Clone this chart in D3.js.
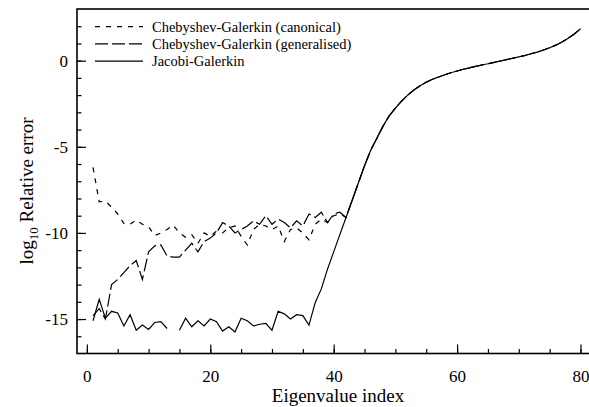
<!DOCTYPE html>
<html>
<head>
<meta charset="utf-8">
<script src="https://cdn.jsdelivr.net/npm/d3@7"></script>
<style>
  body { margin: 0; background: #fff; }
  svg text { font-family: "Liberation Serif", "Times New Roman", serif; fill: #000; }
</style>
</head>
<body>
<div id="chart"></div>
<script>
var width = 589, height = 407;
var margin = {top: 9, right: -10, bottom: 53.5, left: 77};

// eigenvalue index 1..41, series still apart
var canonical = [-6.2,-8.2,-8.15,-8.5,-8.9,-9.45,-9.5,-9.25,-9.5,-9.65,-10.15,-10.0,-9.8,-9.55,-10.0,-10.25,-10.1,-10.6,-10.0,-10.2,
  -9.9,-10.0,-9.7,-9.6,-10.2,-10.7,-9.8,-9.5,-9.6,-9.8,-9.6,-10.5,-9.8,-9.7,-10.0,-10.4,-9.5,-9.2,-9.4,-9.0,-8.9];
var generalised = [-14.8,-14.4,-15.0,-13.0,-12.7,-12.3,-11.9,-11.6,-12.7,-11.1,-10.75,-10.7,-11.35,-11.4,-11.4,-11.0,-10.6,-11.1,-10.5,-10.3,
  -10.0,-9.4,-9.6,-10.0,-9.8,-9.6,-9.3,-9.5,-9.0,-9.5,-9.2,-9.4,-9.7,-9.3,-9.6,-8.9,-9.1,-8.8,-9.4,-8.9,-8.8];
var jacobi = [-15.1,-13.85,-14.95,-14.55,-14.65,-15.4,-14.75,-15.65,-15.35,-15.6,-15.2,-15.15,-15.55,null,-15.65,-14.95,-15.45,-15.1,-15.4,-15.0,
  -15.15,-15.7,-15.45,-15.75,-14.95,-15.1,-15.4,-15.3,-15.25,-15.65,-14.55,-14.7,-15.0,-14.75,-14.8,-15.35,-14.05,-13.25,-12.1,-11.1,-10.1];
// index 42..80, all three methods agree
var common = [-9.1,-8.1,-7.1,-6.1,-5.2,-4.5,-3.8,-3.2,-2.75,-2.35,-2.0,-1.7,-1.45,-1.25,-1.08,-0.95,-0.82,-0.7,-0.6,-0.5,
  -0.42,-0.33,-0.25,-0.18,-0.1,-0.02,0.06,0.14,0.22,0.3,0.4,0.5,0.62,0.75,0.9,1.08,1.3,1.55,1.85];

var xMajor = [0, 20, 40, 60, 80];
var yMajor = [0, -5, -10, -15];
var legendLabels = ["Chebyshev-Galerkin (canonical)", "Chebyshev-Galerkin (generalised)", "Jacobi-Galerkin"];
var dashes = ["5,6", "13,4", null];

function toPoints(vals) {
  return vals.concat(common).map(function(v, i) { return {n: i + 1, v: v}; });
}
var series = [toPoints(canonical), toPoints(generalised), toPoints(jacobi)];

var svg = d3.select("#chart").append("svg")
    .attr("width", width)
    .attr("height", height)
    .attr("font-family", "Liberation Serif, serif");

var x = d3.scaleLinear().domain([-1.6, 83]).range([margin.left, 599]);
var y = d3.scaleLinear().domain([-17, 3]).range([height - margin.bottom, margin.top]);

// minor ticks
svg.append("g")
    .attr("transform", "translate(0," + y(-17) + ")")
    .call(d3.axisBottom(x).tickValues(d3.range(0, 85, 5)).tickSize(-4.5).tickSizeOuter(0).tickFormat(""))
    .call(function(g) { g.select(".domain").remove(); });
svg.append("g")
    .attr("transform", "translate(" + x(-1.6) + ",0)")
    .call(d3.axisLeft(y).tickValues(d3.range(-16, 3, 1)).tickSize(-4.5).tickSizeOuter(0).tickFormat(""))
    .call(function(g) { g.select(".domain").remove(); });

// major ticks + labels
var xAxis = svg.append("g")
    .attr("transform", "translate(0," + y(-17) + ")")
    .call(d3.axisBottom(x).tickValues(xMajor).tickSize(-9).tickSizeOuter(0).tickPadding(16).tickFormat(d3.format("d")));
var yAxis = svg.append("g")
    .attr("transform", "translate(" + x(-1.6) + ",0)")
    .call(d3.axisLeft(y).tickValues(yMajor).tickSize(-9).tickSizeOuter(0).tickPadding(9).tickFormat(function(d) { return d < 0 ? "-" + (-d) : d; }));

svg.selectAll(".tick line").attr("stroke", "#000").attr("stroke-width", 1.2);
svg.selectAll(".tick text").style("font-size", "17px").attr("font-family", null);
xAxis.select(".domain").remove();
yAxis.select(".domain").remove();

// frame
svg.append("rect")
    .attr("x", x(-1.6)).attr("y", y(3))
    .attr("width", x(83) - x(-1.6)).attr("height", y(-17) - y(3))
    .attr("fill", "none").attr("stroke", "#000").attr("stroke-width", 1.6);

var line = d3.line()
    .defined(function(d) { return d.v !== null; })
    .x(function(d) { return x(d.n); })
    .y(function(d) { return y(d.v); });

svg.selectAll(".series")
    .data(series)
    .join("path")
    .attr("class", "series")
    .attr("d", line)
    .attr("fill", "none")
    .attr("stroke", "#000")
    .attr("stroke-width", 1.2)
    .attr("stroke-dasharray", function(d, i) { return dashes[i]; });

// legend
var legend = svg.append("g");
legendLabels.forEach(function(t, i) {
  var ly = 26.7 + i * 17.2;
  legend.append("line")
      .attr("x1", 95).attr("x2", 143).attr("y1", ly).attr("y2", ly)
      .attr("stroke", "#000").attr("stroke-width", 1.2)
      .attr("stroke-dasharray", dashes[i]);
  legend.append("text")
      .attr("x", 152).attr("y", ly + 5)
      .style("font-size", "14.5px")
      .text(t);
});

// axis titles
svg.append("text")
    .attr("x", 338).attr("y", 402)
    .attr("text-anchor", "middle")
    .style("font-size", "19px")
    .text("Eigenvalue index");

var yl = svg.append("text")
    .attr("transform", "translate(33," + 191 + ") rotate(-90)")
    .attr("text-anchor", "middle")
    .style("font-size", "19px");
yl.append("tspan").text("log");
yl.append("tspan").attr("dy", 5).style("font-size", "13px").text("10");
yl.append("tspan").attr("dy", -5).text(" Relative error");
</script>
</body>
</html>
